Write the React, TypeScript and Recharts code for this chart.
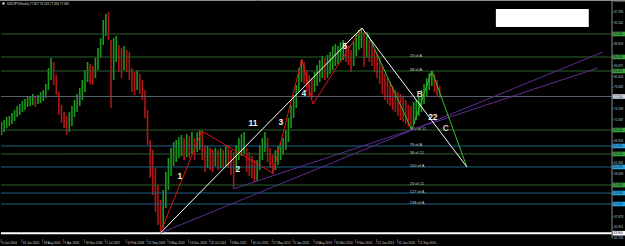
import React from 'react';
import { ComposedChart, Bar, XAxis, YAxis, ReferenceLine, ReferenceDot, ReferenceArea } from 'recharts';

// Weekly NZDJPY, sampled every 4 weeks from 6 Jun 2004
const STEP_WEEKS = 4;
const highs = [
  70.99, 71.48, 72.21, 72.46, 73.19, 73.92, 74.89, 75.38, 76.11, 76.6,
  77.09, 77.33, 77.82, 77.33, 77.57, 78.3, 78.79, 80.25, 84.15, 86.59,
  85.61, 82.45, 78.3, 75.14, 73.43, 72.46, 73.43, 74.89, 76.35, 77.82,
  79.28, 81.23, 83.66, 85.61, 85.13, 84.64, 86.59, 89.02, 91.46, 95.85,
  97.31, 97.8, 90.97, 91.46, 91.95, 89.76, 89.02, 89.51, 88.54, 88.05,
  84.15, 83.18, 83.66, 82.69, 81.23, 78.79, 73.92, 66.61, 64.17, 59.79,
  55.64, 51.99, 54.42, 58.81, 62.22, 64.66, 66.12, 66.61, 67.34, 67.83,
  67.09, 68.07, 67.58, 68.56, 67.09, 68.56, 69.04, 68.8, 65.39, 65.15,
  64.66, 64.17, 64.66, 64.17, 64.66, 64.17, 65.15, 65.39, 64.17, 63.68,
  65.39, 67.09, 68.07, 68.56, 64.66, 63.68, 62.71, 61.73, 61.73, 65.39,
  67.09, 68.56, 67.09, 64.66, 62.95, 64.17, 65.15, 66.12, 67.09, 69.04,
  71.97, 75.14, 77.57, 80.01, 84.15, 86.1, 85.61, 83.66, 82.45, 81.71,
  83.18, 84.88, 86.1, 87.08, 86.59, 87.32, 88.05, 89.51, 90.0, 89.51,
  90.49, 90.97, 90.0, 89.51, 88.54, 90.49, 92.44, 93.41, 93.9, 92.92,
  91.95, 90.97, 90.0, 88.54, 87.56, 86.59, 84.64, 82.69, 81.71, 80.74,
  79.77, 78.79, 78.3, 77.82, 77.33, 76.35, 75.14, 74.89, 75.87, 76.35,
  77.33, 78.79, 80.25, 81.71, 82.93, 83.42, 82.69, 81.23, 79.77,
];
const lows = [
  67.83, 68.56, 69.53, 70.02, 70.51, 71.24, 72.21, 72.7, 73.43, 73.92,
  74.65, 74.89, 75.14, 74.65, 75.38, 75.62, 76.11, 76.84, 78.79, 81.23,
  80.01, 77.57, 72.7, 70.75, 69.53, 67.83, 68.56, 70.02, 72.21, 73.43,
  74.89, 76.35, 78.3, 80.74, 80.25, 80.01, 81.71, 83.66, 86.59, 89.76,
  91.95, 90.97, 74.4, 81.23, 85.61, 83.18, 81.71, 83.66, 83.18, 81.23,
  78.3, 77.57, 78.79, 77.82, 76.35, 71.97, 65.39, 57.35, 53.21, 49.06,
  45.9, 43.9, 45.17, 50.04, 54.42, 57.84, 60.27, 61.25, 62.22, 62.71,
  61.73, 62.47, 62.22, 63.2, 61.73, 63.68, 64.17, 61.73, 58.81, 59.79,
  59.3, 58.81, 60.27, 59.3, 59.79, 59.79, 60.27, 59.79, 58.08, 54.91,
  59.3, 61.73, 62.71, 63.2, 58.81, 57.84, 57.35, 56.37, 56.62, 59.3,
  61.73, 63.68, 61.25, 59.79, 58.32, 59.3, 60.52, 61.73, 62.95, 64.17,
  66.12, 69.53, 71.97, 74.4, 78.3, 80.74, 80.25, 78.3, 77.33, 76.84,
  78.3, 79.77, 80.74, 81.71, 81.23, 81.71, 82.69, 83.66, 84.64, 85.13,
  85.61, 86.1, 85.61, 84.88, 83.18, 84.64, 87.08, 88.54, 89.02, 84.4,
  86.59, 85.61, 84.64, 83.18, 81.71, 80.25, 77.82, 76.35, 75.38, 74.89,
  73.92, 73.43, 72.46, 71.48, 70.99, 70.51, 69.78, 69.29, 70.51, 71.48,
  72.46, 73.43, 75.38, 77.33, 78.79, 79.77, 78.3, 77.33, 76.84,
];

const dateTickWeeks = [0, 32, 64, 96, 128, 160, 192, 224, 256, 288, 320, 352, 384, 416, 448, 480, 512, 544, 576, 608, 640];
const dateLabels = [
  '6 Jun 2004', '16 Jan 2005', '28 Aug 2005', '9 Apr 2006', '19 Nov 2006', '1 Jul 2007', '10 Feb 2008',
  '21 Sep 2008', '3 May 2009', '13 Dec 2009', '25 Jul 2010', '6 Mar 2011', '16 Oct 2011', '27 May 2012',
  '6 Jan 2013', '18 Aug 2013', '30 Mar 2014', '9 Nov 2014', '21 Jun 2015', '31 Jan 2016', '11 Sep 2016',
];
const priceTicks = [
  100.405, 97.783, 95.162, 92.54, 89.919, 87.297, 84.675, 82.054, 79.432, 76.811, 74.189, 71.567,
  68.946, 66.324, 63.703, 61.081, 58.459, 55.838, 53.216, 50.595, 47.973, 45.351, 42.73,
];

const levelPrices = [92.44, 86.83, 83.42, 77.21, 69.04, 65.15, 63.2, 60.03, 55.64, 53.69, 51.01, 43.9];
const levelNames = ['', '23 of A', '38 of A', '', '100 of 11', '78 of A', '38 of 11', '100 of A', '23 of 11', '127 of A', '138 of A', ''];
const levelKinds = ['g', 'g', 'g', 's', 'g', 'b', 'g', 'b', 'g', 'b', 'b', 'w'];

const redWave = [
  { w: 244, p: 43.9 }, { w: 308, p: 68.8 }, { w: 417, p: 58.57 }, { w: 461.4, p: 86.34 },
  { w: 478.3, p: 75.38 }, { w: 553.4, p: 93.8 },
];
const whiteWave = [{ w: 244, p: 43.9 }, { w: 553.4, p: 93.9 }, { w: 714.4, p: 60.03 }];
const greenWave = [{ w: 561, p: 92.9 }, { w: 630, p: 69.1 }, { w: 660.7, p: 83.42 }, { w: 714.4, p: 60.03 }];
const purpleRays = [
  [{ w: 244, p: 43.9 }, { w: 923, p: 88.05 }],
  [{ w: 355.7, p: 54.67 }, { w: 915.2, p: 84.15 }],
];
const waveLabels = [
  { t: '1', w: 274.4, p: 57.84 }, { t: '2', w: 363.3, p: 59.54 }, { t: '11', w: 386.3, p: 70.75 },
  { t: '3', w: 429.2, p: 70.99 }, { t: '4', w: 464.5, p: 78.06 }, { t: '5', w: 527.4, p: 89.51 },
  { t: 'B', w: 642.3, p: 77.82 }, { t: '22', w: 662.3, p: 72.21 }, { t: 'C', w: 682.2, p: 69.53 },
];
const noteBox = { w1: 758.9, w2: 901.4, p1: 94.14, p2: 98.53 };
const title = 'NZDJPY,Weekly  77.827 78.133 77.268 77.349';

const X_DOMAIN = [0, 937];
const Y_DOMAIN = [42.73, 100.72];
const FONT = 'Liberation Sans, Arial, sans-serif';

const KIND_STYLE: Record<string, { line: string; box: string; text: string; width: number }> = {
  g: { line: '#2a622a', box: '#39a339', text: '#0a1a0a', width: 1 },
  b: { line: '#1b6485', box: '#27a6e2', text: '#06202c', width: 1 },
  s: { line: '#56636e', box: '#d3d9de', text: '#1a1a1a', width: 1 },
  w: { line: '#ffffff', box: '#ffffff', text: '#000000', width: 2 },
};

// MT4 hides a price label that would sit under a highlighted level label
const visiblePriceTicks = priceTicks.filter((t) => levelPrices.every((p) => Math.abs(p - t) > 1.0));

const data = highs.map((h, i) => {
  const mid = (h + lows[i]) / 2;
  const prev = i > 0 ? (highs[i - 1] + lows[i - 1]) / 2 : mid;
  return { w: i * STEP_WEEKS, range: [lows[i], h], up: mid >= prev };
});

const BarShape = (props: any) => {
  const { x, y, width, height, payload } = props;
  if (x == null || y == null) return null;
  const top = Math.min(y, y + height);
  const h = Math.max(Math.abs(height), 1);
  return <rect x={x} y={top} width={width} height={h} fill={payload.up ? '#1a9a1a' : '#b01616'} />;
};

const PriceTick = (props: any) => {
  const { x, y, payload } = props;
  return (
    <g>
      <line x1={x} x2={x + 1.5} y1={y} y2={y} stroke="#888" strokeWidth={0.5} />
      <text x={x + 2} y={y + 1.1} fontSize={3} fill="#c8c8c8" fontFamily={FONT}>
        {Number(payload.value).toFixed(3)}
      </text>
    </g>
  );
};

const DateTick = (props: any) => {
  const { x, y, payload } = props;
  const idx = dateTickWeeks.indexOf(payload.value);
  return (
    <g>
      <line x1={x} x2={x} y1={y + 1} y2={y + 5} stroke="#999" strokeWidth={0.5} />
      <text x={x + 1} y={y + 6} fontSize={3} fill="#d0d0d0" fontFamily={FONT}>
        {idx >= 0 ? dateLabels[idx] : ''}
      </text>
    </g>
  );
};

const LevelLabel = (props: any) => {
  const { viewBox, idx } = props;
  if (!viewBox) return null;
  const { x, y, width } = viewBox;
  const st = KIND_STYLE[levelKinds[idx]];
  const name = levelNames[idx];
  return (
    <g>
      {name ? (
        <text x={x + width * 0.669} y={y - 0.4} fontSize={4} fill="#c4c4c4" fontFamily={FONT}>
          {name}
        </text>
      ) : null}
      <rect x={x + width + 0.5} y={y - 2.3} width={12.5} height={4.6} fill={st.box} />
      <text x={x + width + 1.5} y={y + 1.1} fontSize={3} fill={st.text} fontFamily={FONT}>
        {levelPrices[idx].toFixed(3)}
      </text>
    </g>
  );
};

function segs(points: { w: number; p: number }[]) {
  const out: [{ x: number; y: number }, { x: number; y: number }][] = [];
  for (let i = 0; i < points.length - 1; i++) {
    out.push([{ x: points[i].w, y: points[i].p }, { x: points[i + 1].w, y: points[i + 1].p }]);
  }
  return out;
}

export default function App() {
  return (
    <div style={{ position: 'absolute', left: 0, top: 0, width: 625, height: 246, background: '#000', overflow: 'hidden' }}>
      <ComposedChart width={625} height={246} data={data} margin={{ top: 0, right: 0, bottom: 0, left: 1 }}>
        <XAxis
          type="number"
          dataKey="w"
          domain={X_DOMAIN}
          ticks={dateTickWeeks}
          interval={0}
          allowDataOverflow
          axisLine={false}
          tickLine={false}
          tickSize={0}
          tickMargin={0}
          height={8}
          tick={<DateTick />}
        />
        <YAxis
          orientation="right"
          domain={Y_DOMAIN}
          ticks={visiblePriceTicks}
          interval={0}
          allowDataOverflow
          width={13}
          axisLine={{ stroke: '#8a8a8a' }}
          tickLine={false}
          tickSize={0}
          tickMargin={0}
          tick={<PriceTick />}
        />
        {levelPrices.map((p, i) => (
          <ReferenceLine
            key={'lv' + i}
            y={p}
            stroke={KIND_STYLE[levelKinds[i]].line}
            strokeWidth={KIND_STYLE[levelKinds[i]].width}
            ifOverflow="visible"
            label={<LevelLabel idx={i} />}
          />
        ))}
        <Bar dataKey="range" barSize={1.6} isAnimationActive={false} shape={<BarShape />} />
        <ReferenceArea
          x1={noteBox.w1}
          x2={noteBox.w2}
          y1={noteBox.p1}
          y2={noteBox.p2}
          fill="#ffffff"
          fillOpacity={1}
          stroke="none"
          ifOverflow="visible"
        />
        {purpleRays.map((r, i) => (
          <ReferenceLine
            key={'pr' + i}
            segment={[{ x: r[0].w, y: r[0].p }, { x: r[1].w, y: r[1].p }]}
            stroke="#5e2c94"
            strokeWidth={1}
            ifOverflow="visible"
          />
        ))}
        {segs(redWave).map((s, i) => (
          <ReferenceLine key={'rw' + i} segment={s} stroke="#e01515" strokeWidth={1} ifOverflow="visible" />
        ))}
        {segs(greenWave).map((s, i) => (
          <ReferenceLine key={'gw' + i} segment={s} stroke="#2ec42e" strokeWidth={1} ifOverflow="visible" />
        ))}
        {segs(whiteWave).map((s, i) => (
          <ReferenceLine key={'ww' + i} segment={s} stroke="#ffffff" strokeWidth={1} ifOverflow="visible" />
        ))}
        {waveLabels.map((l, i) => (
          <ReferenceDot
            key={'wl' + i}
            x={l.w}
            y={l.p}
            r={0}
            fill="none"
            stroke="none"
            ifOverflow="visible"
            label={{
              value: l.t,
              position: 'center',
              fill: l.t === 'B' || l.t === 'C' ? '#cfcfcf' : '#f2f2f2',
              fontSize: 8.5,
              fontWeight: 'bold',
              fontFamily: FONT,
            }}
          />
        ))}
      </ComposedChart>
      <svg width={625} height={246} style={{ position: 'absolute', left: 0, top: 0, pointerEvents: 'none' }}>
        <line x1={0} x2={625} y1={0.5} y2={0.5} stroke="#8a8a8a" strokeWidth={1} />
        <rect x={2.5} y={2.5} width={2} height={2} fill="#ffffff" />
        <text x={7} y={5} fontSize={3} fill="#dcdcdc" fontFamily={FONT}>
          {title}
        </text>
      </svg>
    </div>
  );
}
